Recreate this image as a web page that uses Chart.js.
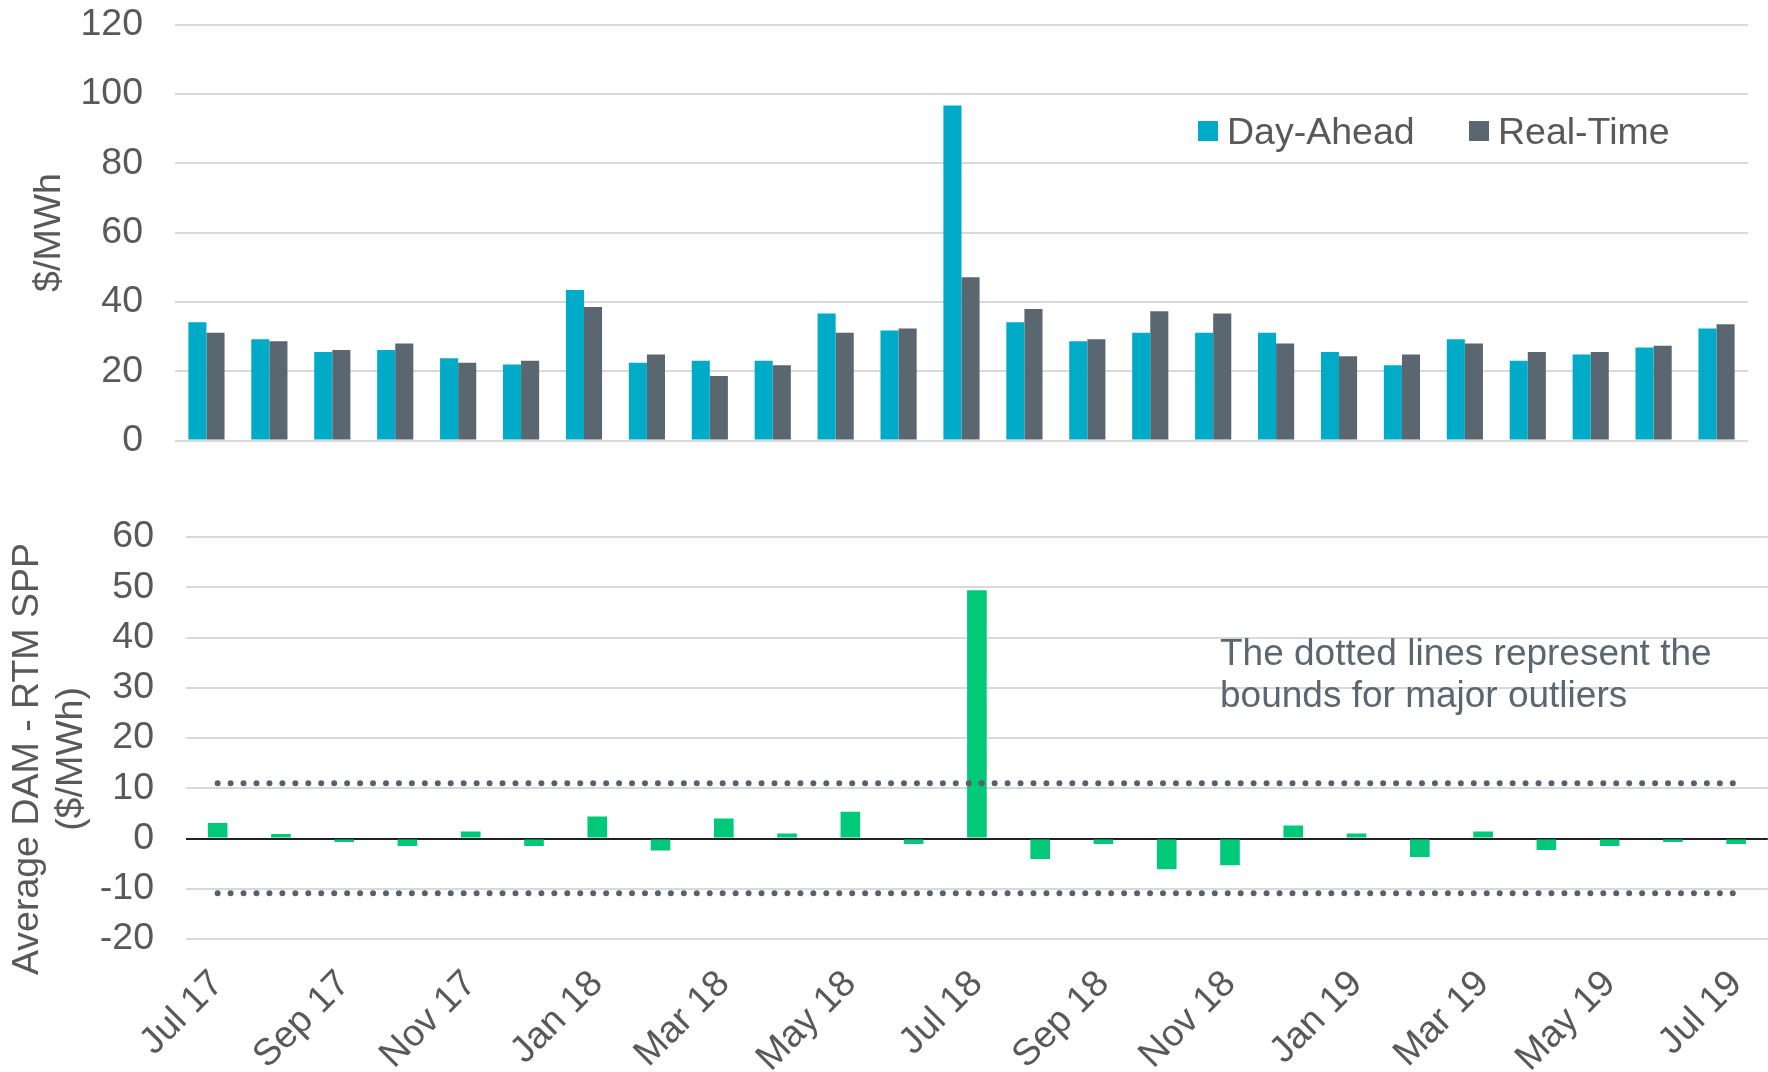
<!DOCTYPE html>
<html lang="en">
  <head>
    <meta charset="UTF-8" />
    <script src="https://cdn.jsdelivr.net/npm/chart.js"></script>
    <title>DAM vs RTM SPP</title>
    <style>
      body {
        margin: 0;
        background: #fff;
        font-family: "Liberation Sans", Arial, sans-serif;
      }
      .main {
        position: relative;
        width: 1768px;
        height: 1072px;
        overflow: hidden;
      }
      /* the y tick padding pushes the plot in by ~55px, so the top canvas starts above the page */
      #chart-top {
        position: absolute;
        left: 0;
        top: -30px;
      }
      /* slightly wider than the page: the rotated last label reserves ~15px on the right */
      #chart-bottom {
        position: absolute;
        left: 0;
        top: 470px;
      }
      .legend {
        position: absolute;
        top: 111px;
        display: flex;
        align-items: center;
        font-size: 37.5px;
        line-height: 40px;
        color: #595959;
      }
      .legend > span {
        display: inline-block;
        width: 20px;
        height: 20px;
        margin-right: 9px;
      }
      .note {
        position: absolute;
        left: 1220px;
        top: 632px;
        font-size: 37px;
        line-height: 41.5px;
        color: #5a6670;
      }
    </style>
  </head>
  <body>
    <main class="main">
      <canvas id="chart-top" width="1768" height="525"></canvas>
      <canvas id="chart-bottom" width="1783" height="602"></canvas>
      <div class="legend" style="left: 1198px"><span style="background: #00abc8"></span>Day-Ahead</div>
      <div class="legend" style="left: 1469px"><span style="background: #5b6770"></span>Real-Time</div>
      <div class="note">The dotted lines represent the<br />bounds for major outliers</div>
    </main>
    <script>
      // data
      const months = [
        'Jul 17', 'Aug 17', 'Sep 17', 'Oct 17', 'Nov 17', 'Dec 17',
        'Jan 18', 'Feb 18', 'Mar 18', 'Apr 18', 'May 18', 'Jun 18',
        'Jul 18', 'Aug 18', 'Sep 18', 'Oct 18', 'Nov 18', 'Dec 18',
        'Jan 19', 'Feb 19', 'Mar 19', 'Apr 19', 'May 19', 'Jun 19', 'Jul 19',
      ];
      const dayAhead = [34.1, 29.2, 25.5, 26.1, 23.7, 21.9, 43.4, 22.4, 23.0, 23.0, 36.6, 31.7,
        96.6, 34.1, 28.6, 31.1, 31.1, 31.1, 25.5, 21.7, 29.2, 23.0, 24.8, 26.8, 32.3];
      const realTime = [31.1, 28.6, 26.1, 28.0, 22.4, 23.0, 38.5, 24.8, 18.6, 21.7, 31.1, 32.3,
        47.1, 37.9, 29.2, 37.3, 36.6, 28.0, 24.3, 24.8, 28.0, 25.5, 25.5, 27.3, 33.5];
      const spread = [3.1, 0.9, -0.7, -1.5, 1.4, -1.5, 4.4, -2.4, 4.0, 1.0, 5.3, -1.1,
        49.4, -4.1, -1.1, -6.1, -5.3, 2.6, 1.0, -3.7, 1.4, -2.3, -1.5, -0.7, -1.1];
      const upperBound = 11.0;
      const lowerBound = -10.9;

      const textColor = '#595959';
      const gridColor = '#d9d9d9';
      const fontFamily = "'Liberation Sans', Arial, sans-serif";
      const font = { family: fontFamily, size: 37.5 };

      // rotated two-line axis title, drawn by hand so it can sit off-centre like the original
      const sideTitle = {
        id: 'sideTitle',
        afterDraw(chart, args, opts) {
          const ctx = chart.ctx;
          ctx.save();
          ctx.fillStyle = opts.color;
          ctx.font = `${font.size}px ${fontFamily}`;
          ctx.textAlign = 'center';
          ctx.textBaseline = 'middle';
          opts.lines.forEach((line, i) => {
            ctx.save();
            ctx.translate(opts.x + i * opts.gap, opts.y);
            ctx.rotate(-Math.PI / 2);
            ctx.fillText(line, 0, 0);
            ctx.restore();
          });
          ctx.restore();
        },
      };

      // top: day-ahead vs real-time
      const chartTop = new Chart(document.getElementById('chart-top'), {
        type: 'bar',
        data: {
          labels: months,
          datasets: [
            { label: 'Day-Ahead', data: dayAhead, backgroundColor: '#00abc8' },
            { label: 'Real-Time', data: realTime, backgroundColor: '#5b6770' },
          ],
        },
        options: {
          responsive: false,
          animation: false,
          categoryPercentage: 0.575,
          barPercentage: 1.0,
          layout: { padding: { top: 0, bottom: 0, right: 20, left: 0 } },
          plugins: { legend: { display: false }, tooltip: { enabled: false } },
          scales: {
            x: {
              display: false,
              ticks: { display: false },
              grid: { display: false },
            },
            y: {
              min: 0,
              max: 120,
              ticks: { stepSize: 20, padding: 32, color: textColor, font },
              grid: { color: gridColor, lineWidth: 2, drawTicks: false },
              border: { display: false },
              title: {
                display: true,
                text: '$/MWh',
                color: textColor,
                font,
                padding: { top: 27, bottom: 0 },
              },
              afterFit(scale) {
                scale.width = 175;
              },
            },
          },
        },
      });

      // bottom: DAM - RTM spread with outlier bounds
      const boundStyle = {
        type: 'line',
        borderColor: '#56616b',
        borderWidth: 6,
        borderDash: [0, 12.95],
        borderCapStyle: 'round',
        pointRadius: 0,
        order: 1,
      };
      const chartBottom = new Chart(document.getElementById('chart-bottom'), {
        data: {
          labels: months,
          datasets: [
            { ...boundStyle, data: months.map(() => upperBound) },
            { ...boundStyle, data: months.map(() => lowerBound) },
            {
              type: 'bar',
              data: spread,
              backgroundColor: '#00c97a',
              barPercentage: 0.31,
              categoryPercentage: 1.0,
              order: 2,
            },
          ],
        },
        plugins: [sideTitle],
        options: {
          responsive: false,
          animation: false,
          layout: { padding: { top: 67, bottom: 0, right: 0, left: 0 } },
          plugins: {
            legend: { display: false },
            tooltip: { enabled: false },
            sideTitle: {
              lines: ['Average DAM - RTM SPP', '($/MWh)'],
              color: textColor,
              x: 28,
              y: 289,
              gap: 44,
            },
          },
          scales: {
            x: {
              grid: { display: false },
              border: { display: false },
              ticks: {
                autoSkip: false,
                maxRotation: 45,
                minRotation: 45,
                padding: 15,
                color: textColor,
                font,
                callback(value, index) {
                  return index % 2 === 0 ? this.getLabelForValue(value) : '';
                },
              },
              afterFit(scale) {
                scale.height = 133;
              },
            },
            y: {
              min: -20,
              max: 60,
              ticks: { stepSize: 10, padding: 32, color: textColor, font },
              grid: {
                color: (ctx) => (ctx.tick && ctx.tick.value === 0 ? '#222' : gridColor),
                lineWidth: 2,
                drawTicks: false,
              },
              border: { display: false },
              afterFit(scale) {
                scale.width = 186;
              },
            },
          },
        },
      });
    </script>
  </body>
</html>
